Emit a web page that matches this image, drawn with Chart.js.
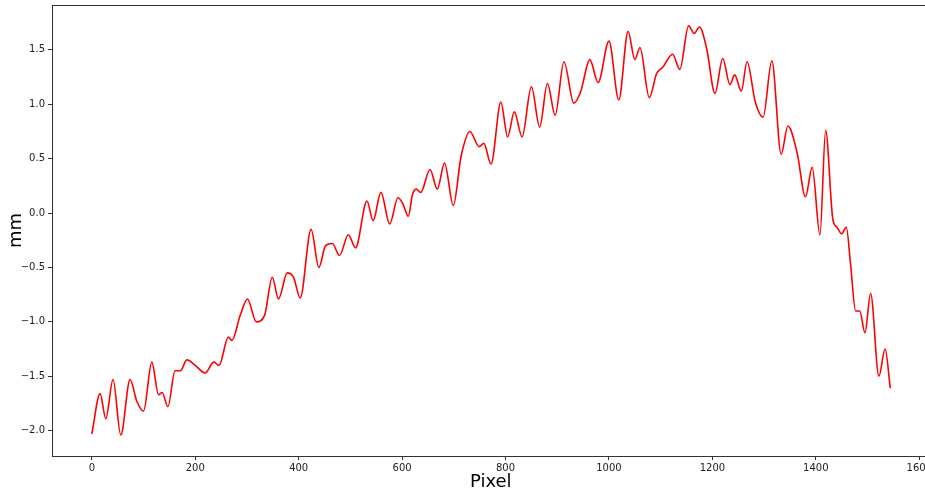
<!DOCTYPE html>
<html>
<head>
<meta charset="utf-8">
<script src="https://cdn.jsdelivr.net/npm/chart.js@4/dist/chart.umd.min.js"></script>
<style>
  html, body { margin: 0; padding: 0; background: #fff; overflow: hidden; }
  #wrap { width: 934px; height: 490px; }
</style>
</head>
<body>
<div id="wrap"><canvas id="chart" width="934" height="490"></canvas></div>
<script>
// valores (pixel -> mm)
const pixels = [0, 16, 27, 41, 56, 74, 87, 100, 116, 129, 136, 147, 161, 171, 184, 200, 219, 236, 246,
  264, 271, 287, 301, 318, 334, 349, 361, 378, 390, 403, 424, 439, 452, 465, 479, 496, 510,
  532, 544, 559, 576, 592, 601, 612, 620, 627, 636, 654, 668, 682, 699, 714, 731, 749, 758, 772,
  791, 804, 817, 832, 850, 866, 881, 896, 913, 932, 945, 963, 979, 1000, 1019, 1037, 1050, 1060,
  1078, 1092, 1104, 1123, 1137, 1154, 1165, 1175, 1189, 1205, 1220, 1234, 1243, 1256, 1267, 1283,
  1298, 1315, 1333, 1346, 1364, 1380, 1393, 1408, 1419, 1433, 1441, 1450, 1459, 1467, 1477, 1485,
  1495, 1506, 1522, 1534, 1544];
const mm = [-2.03, -1.66, -1.89, -1.53, -2.04, -1.53, -1.73, -1.82, -1.37, -1.67, -1.65, -1.78, -1.45, -1.45, -1.35, -1.40, -1.47, -1.37, -1.40,
  -1.14, -1.17, -0.94, -0.79, -1.00, -0.94, -0.59, -0.79, -0.55, -0.59, -0.78, -0.15, -0.50, -0.30, -0.28, -0.39, -0.20, -0.32,
  0.11, -0.07, 0.19, -0.10, 0.14, 0.09, -0.03, 0.17, 0.22, 0.19, 0.40, 0.22, 0.46, 0.07, 0.52, 0.75, 0.61, 0.64, 0.45,
  1.02, 0.70, 0.93, 0.70, 1.16, 0.79, 1.19, 0.90, 1.39, 1.01, 1.11, 1.41, 1.20, 1.58, 1.04, 1.67, 1.41, 1.52,
  1.06, 1.28, 1.34, 1.46, 1.32, 1.72, 1.65, 1.71, 1.51, 1.10, 1.42, 1.18, 1.27, 1.12, 1.39, 1.02,
  0.88, 1.40, 0.54, 0.80, 0.55, 0.15, 0.42, -0.20, 0.76, -0.06, -0.13, -0.19, -0.13, -0.46, -0.90, -0.90,
  -1.10, -0.74, -1.50, -1.25, -1.61];

const xTicks = [0, 200, 400, 600, 800, 1000, 1200, 1400, 1600];
const yTicks = [-2.0, -1.5, -1.0, -0.5, 0.0, 0.5, 1.0, 1.5];

const points = pixels.map((p, i) => ({ x: p, y: mm[i] }));

// moldura do eixo (estilo matplotlib)
const frame = {
    id: 'frame',
    afterDraw(chart) {
        const a = chart.chartArea;
        const ctx = chart.ctx;
        ctx.save();
        ctx.strokeStyle = '#333';
        ctx.lineWidth = 1;
        ctx.strokeRect(a.left + 0.5, a.top + 0.5, a.right - a.left - 1, a.bottom - a.top);
        ctx.restore();
    }
};

const tickFont = { family: 'DejaVu Sans', size: 10 };

new Chart(document.getElementById('chart'), {
    type: 'line',
    data: {
        datasets: [{
            data: points,
            borderColor: '#ff0000',
            borderWidth: 1.6,
            pointRadius: 0,
            fill: false,
            cubicInterpolationMode: 'monotone'
        }]
    },
    options: {
        responsive: false,
        animation: false,
        layout: { padding: { top: 5, right: 3, left: 0, bottom: 0 } },
        plugins: { legend: { display: false }, tooltip: { enabled: false } },
        scales: {
            x: {
                type: 'linear',
                min: -77,
                max: 1620,
                afterBuildTicks: s => { s.ticks = xTicks.map(v => ({ value: v })); },
                afterFit: s => { s.height = 34; },
                grid: { display: true, drawOnChartArea: false, drawTicks: true, tickLength: 4, color: '#333' },
                border: { display: false },
                ticks: { font: tickFont, color: '#222', padding: 2, maxRotation: 0,
                    callback: v => String(v) },
                title: { display: true, text: 'Pixel', font: { family: 'DejaVu Sans', size: 18 }, color: '#000', padding: { top: 0, bottom: -3 } }
            },
            y: {
                min: -2.233,
                max: 1.912,
                afterBuildTicks: s => { s.ticks = yTicks.map(v => ({ value: v })); },
                afterFit: s => { s.width = 52; s.paddingTop = 0; s.paddingBottom = 0; },
                grid: { display: true, drawOnChartArea: false, drawTicks: true, tickLength: 4, color: '#333' },
                border: { display: false },
                ticks: { font: tickFont, color: '#222', padding: 3,
                    callback: v => v.toFixed(1).replace('-', '\u2212') },
                title: { display: true, text: 'mm', font: { family: 'DejaVu Sans', size: 18 }, color: '#000', padding: { top: 6, bottom: 0 } }
            }
        }
    },
    plugins: [frame]
});
</script>
</body>
</html>
